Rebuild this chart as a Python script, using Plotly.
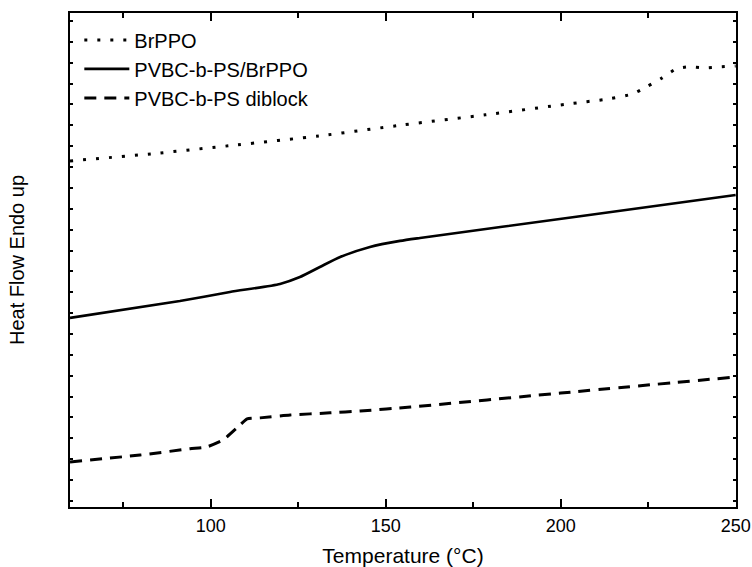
import plotly.graph_objects as go

# DSC traces (Heat Flow, endo up; arbitrary offset units)
brppo_t = [59.8, 83, 107.5, 131, 155, 178.5, 202, 213.5, 220.5, 224.5, 229, 233, 236.5, 241, 245.5, 250]
brppo_hf = [16.29, 16.63, 17.06, 17.49, 18.02, 18.50, 19.02, 19.26, 19.50, 19.84, 20.27, 20.70, 20.80, 20.75, 20.80, 20.84]

blend_t = [59.8, 91.2, 105.5, 119.8, 125.5, 131.2, 137.0, 145.5, 154.1, 159.8, 205, 250]
blend_hf = [8.77, 9.58, 10.01, 10.40, 10.73, 11.21, 11.69, 12.17, 12.46, 12.60, 13.63, 14.66]

diblock_t = [59.8, 79.8, 94.1, 98.9, 103.5, 108.4, 110.4, 114.1, 122.7, 134.1, 142.7, 157.1, 200, 250]
diblock_hf = [1.87, 2.20, 2.50, 2.59, 2.92, 3.64, 3.93, 3.98, 4.12, 4.22, 4.31, 4.50, 5.17, 5.94]

x_ticks = [100, 150, 200, 250]

FONT = "Liberation Sans, Arial, sans-serif"

fig = go.Figure()
fig.add_trace(go.Scatter(x=brppo_t, y=brppo_hf, mode="lines", name="BrPPO",
                         line=dict(color="black", width=3, dash="3px,10px", shape="spline", smoothing=0.6)))
fig.add_trace(go.Scatter(x=blend_t, y=blend_hf, mode="lines", name="PVBC-b-PS/BrPPO",
                         line=dict(color="black", width=2.6, shape="spline", smoothing=0.6)))
fig.add_trace(go.Scatter(x=diblock_t, y=diblock_hf, mode="lines", name="PVBC-b-PS diblock",
                         line=dict(color="black", width=3, dash="12px,8px", shape="spline", smoothing=0.5)))

fig.update_layout(
    width=752, height=567,
    margin=dict(l=70, r=16, t=13, b=60, autoexpand=False),
    paper_bgcolor="white", plot_bgcolor="white",
    font=dict(family=FONT, color="black"),
    showlegend=True,
    legend=dict(x=0.014, y=0.985, xanchor="left", yanchor="top",
                bgcolor="rgba(0,0,0,0)", font=dict(size=20, family=FONT),
                itemwidth=45, tracegroupgap=0),
    xaxis=dict(
        range=[59.8, 250.1], tickvals=x_ticks, ticktext=[str(v) for v in x_ticks],
        ticks="inside", ticklen=8, tickwidth=2, tickcolor="black",
        showline=True, linecolor="black", linewidth=2, mirror="ticks",
        showgrid=False, zeroline=False, automargin=False,
        tickfont=dict(size=18, family=FONT), ticklabelstandoff=1,
        minor=dict(ticks="inside", dtick=25, tick0=0, ticklen=5, tickwidth=2, tickcolor="black", showgrid=False),
        title=dict(text="Temperature (°C)", font=dict(size=21, family=FONT), standoff=20),
    ),
    yaxis=dict(
        range=[-0.29, 23.38], dtick=1, tick0=0,
        ticks="inside", ticklen=3, tickwidth=1.5, tickcolor="black",
        showticklabels=False, automargin=False,
        showline=True, linecolor="black", linewidth=2, mirror="ticks",
        showgrid=False, zeroline=False,
        title=dict(text="Heat Flow Endo up", font=dict(size=20, family=FONT), standoff=38),
    ),
)

fig.write_html("out.html")
